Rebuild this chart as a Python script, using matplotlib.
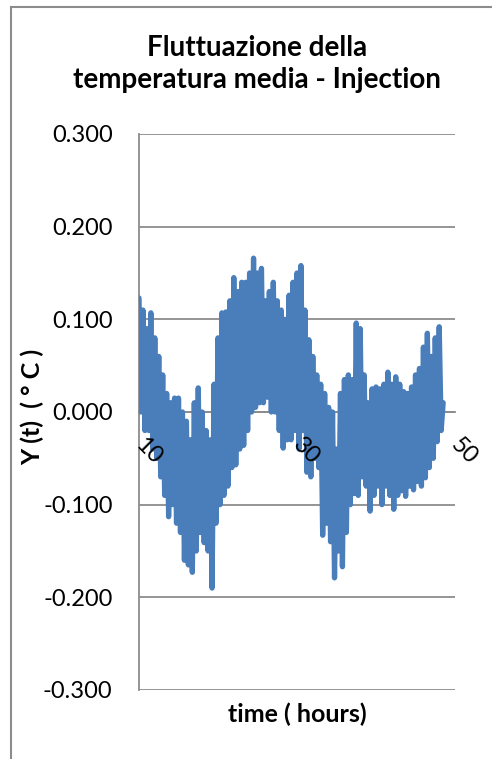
import numpy as np
import matplotlib
matplotlib.use("Agg")
import matplotlib.pyplot as plt
from matplotlib.transforms import ScaledTranslation
from matplotlib.lines import Line2D

plt.rcParams['font.family'] = ['Lato', 'DejaVu Sans']

title = "Fluttuazione della\ntemperatura media - Injection"
xlabel = "time ( hours)"
ylabel = "Y (t)  ( ° C )"

x_ticks = [10, 30, 50]
y_ticks = [-0.3, -0.2, -0.1, 0.0, 0.1, 0.2, 0.3]

# fluctuation values, every 0.25 h starting at 10 h
values = [
    0.123, 0.000, 0.110, -0.020,   # 10
    0.090, -0.020, 0.107, -0.040,  # 11
    0.080, -0.050, 0.060, -0.070,  # 12
    0.040, -0.090, 0.020, -0.113,  # 13
    0.010, -0.100, 0.015, -0.120,  # 14
    0.015, -0.130, 0.000, -0.160,  # 15
    -0.010, -0.165, -0.030, -0.173,  # 16
    0.010, -0.150, 0.026, -0.130,  # 17
    0.000, -0.141, -0.020, -0.150,  # 18
    -0.030, -0.190, 0.030, -0.120,  # 19
    0.080, -0.100, 0.107, -0.090,  # 20
    0.108, -0.080, 0.120, -0.060,  # 21
    0.145, -0.057, 0.130, -0.040,  # 22
    0.140, -0.036, 0.140, -0.020,  # 23
    0.150, 0.000, 0.166, 0.005,    # 24
    0.150, 0.010, 0.155, 0.010,    # 25
    0.120, 0.016, 0.130, 0.000,    # 26
    0.140, 0.000, 0.120, -0.020,   # 27
    0.110, -0.039, 0.100, -0.030,  # 28
    0.126, -0.030, 0.140, -0.020,  # 29
    0.150, -0.040, 0.158, -0.020,  # 30
    0.110, -0.065, 0.078, -0.070,  # 31
    0.060, -0.050, 0.040, -0.060,  # 32
    0.030, -0.133, 0.020, -0.120,  # 33
    0.005, -0.140, 0.000, -0.179,  # 34
    -0.040, -0.150, 0.020, -0.167,  # 35
    0.035, -0.130, 0.040, -0.100,  # 36
    0.035, -0.088, 0.096, -0.090,  # 37
    0.090, -0.070, 0.040, -0.080,  # 38
    0.010, -0.107, 0.025, -0.090,  # 39
    0.027, -0.080, 0.025, -0.100,  # 40
    0.030, -0.080, 0.043, -0.090,  # 41
    0.030, -0.105, 0.038, -0.090,  # 42
    0.030, -0.085, 0.022, -0.091,  # 43
    0.020, -0.080, 0.027, -0.084,  # 44
    0.040, -0.075, 0.047, -0.080,  # 45
    0.070, -0.071, 0.085, -0.060,  # 46
    0.060, -0.050, 0.080, -0.032,  # 47
    0.092, -0.020, 0.010,          # 48
]
time_h = 10 + 0.25 * np.arange(len(values))

W, H = 492, 759
fig = plt.figure(figsize=(W / 100, H / 100), dpi=100)
ax = fig.add_axes([139 / W, 1 - 690 / H, (455 - 139) / W, (690 - 134) / H])

gray = '#8C8C8C'
ax.plot(time_h, values, color='#4A7EBB', lw=3.8, solid_capstyle='round',
        solid_joinstyle='round', zorder=3)

ax.set_xlim(10, 50)
ax.set_ylim(-0.3, 0.3)
ax.set_yticks(y_ticks)
ax.set_yticklabels([f"{v:.3f}" for v in y_ticks], fontsize=17)
ax.yaxis.grid(True, color=gray, lw=1.3)
ax.set_axisbelow(True)

for s in ['top', 'right']:
    ax.spines[s].set_visible(False)
ax.spines['left'].set_color(gray)
ax.spines['left'].set_linewidth(1.3)
ax.spines['bottom'].set_position(('data', 0))
ax.spines['bottom'].set_color(gray)
ax.spines['bottom'].set_linewidth(1.3)

ax.set_xticks(x_ticks)
ax.set_xticklabels([str(v) for v in x_ticks], fontsize=17, rotation=-45,
                   ha='center', va='center', rotation_mode='anchor')
ax.tick_params(axis='both', length=0)
ax.tick_params(axis='x', pad=0)
ax.tick_params(axis='y', pad=19)
ax.xaxis.set_zorder(5)
off = ScaledTranslation(9 / 100, -39 / 100, fig.dpi_scale_trans)
for lab in ax.get_xticklabels():
    lab.set_transform(lab.get_transform() + off)

fig.text(257 / W, 1 - 64 / H, title, ha='center', va='center', fontsize=20,
         fontweight='bold', linespacing=1.3)
fig.text(297 / W, 1 - 714 / H, xlabel, ha='center', va='center', fontsize=18,
         fontweight='bold')
fig.text(33 / W, 1 - 407 / H, ylabel, ha='center', va='center', fontsize=18,
         fontweight='bold', rotation=90)

# chart area border (partially visible)
fig.add_artist(Line2D([11 / W, 11 / W], [0, 1 - 7 / H], color=gray, lw=1.5,
                      transform=fig.transFigure))
fig.add_artist(Line2D([11 / W, 1], [1 - 7 / H, 1 - 7 / H], color=gray, lw=1.5,
                      transform=fig.transFigure))

fig.savefig('out.png', dpi=100)
